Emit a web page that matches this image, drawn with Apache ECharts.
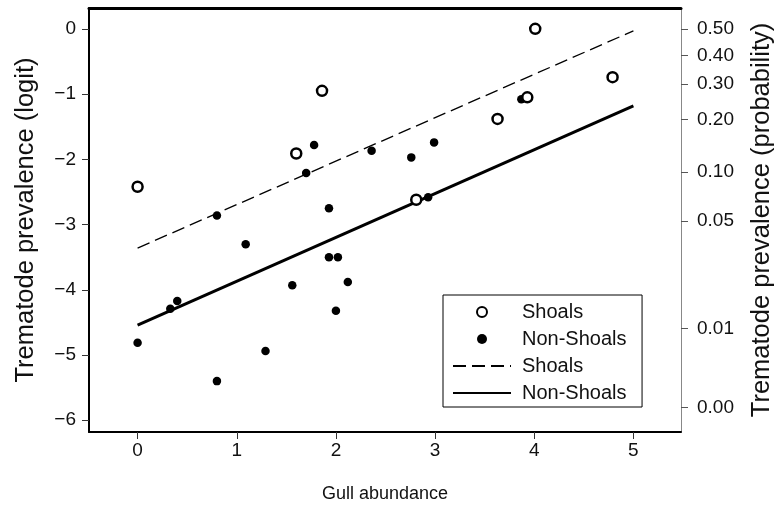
<!DOCTYPE html>
<html><head><meta charset="utf-8">
<script src="https://cdn.jsdelivr.net/npm/echarts@6/dist/echarts.min.js"></script>
<style>html,body{margin:0;padding:0;background:#fff}#c{width:779px;height:508px}</style>
</head><body><div id="c"></div>
<script>
const shoalsX = [0, 1.60, 1.86, 2.81, 3.63, 3.93, 4.01, 4.79];
const shoalsY = [-2.42, -1.91, -0.95, -2.62, -1.38, -1.05, 0.00, -0.74];
const nonShoalsX = [0, 0.33, 0.40, 0.80, 0.80, 1.09, 1.29, 1.56, 1.70, 1.78, 1.93, 1.93, 2.00, 2.02, 2.12, 2.36, 2.76, 2.93, 2.99, 3.87];
const nonShoalsY = [-4.81, -4.29, -4.17, -2.86, -5.40, -3.30, -4.94, -3.93, -2.21, -1.78, -2.75, -3.50, -4.32, -3.50, -3.88, -1.87, -1.97, -2.58, -1.74, -1.08];
const fitX = [0, 5];
const shoalsFit = [-3.36, -0.03];
const nonShoalsFit = [-4.54, -1.18];
const xTicks = [0, 1, 2, 3, 4, 5];
const logitTicks = [0, -1, -2, -3, -4, -5, -6];
const probTicks = [0.50, 0.40, 0.30, 0.20, 0.10, 0.05, 0.01, 0.003];
const probLabels = ['0.50', '0.40', '0.30', '0.20', '0.10', '0.05', '0.01', '0.00'];

const logit = p => Math.log(p / (1 - p));
const probPos = probTicks.map(logit);
const zip = (xs, ys) => xs.map((x, i) => [x, ys[i]]);
const FONT = 'Liberation Sans';
const TXT = '#111';

const chart = echarts.init(document.getElementById('c'), null, {renderer: 'canvas'});
chart.setOption({
  animation: false,
  backgroundColor: '#fff',
  textStyle: {fontFamily: FONT},
  grid: {left: 89, right: 98, top: 8, bottom: 76, containLabel: false, outerBoundsMode: 'none'},
  xAxis: [{
    type: 'value', min: -0.49, max: 5.48, position: 'bottom',
    name: 'Gull abundance', nameLocation: 'middle', nameGap: 53,
    nameTextStyle: {fontSize: 18, color: TXT, fontFamily: FONT},
    axisLine: {show: true, onZero: false, lineStyle: {color: '#000', width: 2}},
    axisTick: {show: true, length: 7, customValues: xTicks, lineStyle: {color: '#333', width: 1}},
    axisLabel: {show: true, customValues: xTicks, margin: 9, fontSize: 19, color: TXT, fontFamily: FONT},
    splitLine: {show: false}
  }, {
    type: 'value', min: -0.49, max: 5.48, position: 'top',
    axisLine: {show: true, onZero: false, lineStyle: {color: '#000', width: 3}},
    axisTick: {show: false}, axisLabel: {show: false}, splitLine: {show: false}
  }],
  yAxis: [{
    type: 'value', min: -6.18, max: 0.32, position: 'left',
    name: 'Trematode prevalence (logit)', nameLocation: 'middle', nameGap: 50, nameRotate: 90,
    nameTextStyle: {fontSize: 25.5, color: TXT, fontFamily: FONT},
    axisLine: {show: true, onZero: false, lineStyle: {color: '#000', width: 2}},
    axisTick: {show: true, length: 7, customValues: logitTicks, lineStyle: {color: '#333', width: 1}},
    axisLabel: {show: true, customValues: logitTicks, margin: 13, fontSize: 19, color: TXT, fontFamily: FONT,
      formatter: v => (v < 0 ? '\u2212' + Math.abs(v) : String(v))},
    splitLine: {show: false}
  }, {
    type: 'value', min: -6.18, max: 0.32, position: 'right',
    name: 'Trematode prevalence (probability)', nameLocation: 'middle', nameGap: 68, nameRotate: 90,
    nameTextStyle: {fontSize: 25.5, color: TXT, fontFamily: FONT},
    axisLine: {show: true, onZero: false, lineStyle: {color: '#888', width: 1}},
    axisTick: {show: true, length: 7, customValues: probPos, lineStyle: {color: '#555', width: 1}},
    axisLabel: {show: true, customValues: probPos, margin: 16, fontSize: 19, color: TXT, fontFamily: FONT,
      formatter: v => {
        let best = 0;
        probPos.forEach((p, i) => { if (Math.abs(p - v) < Math.abs(probPos[best] - v)) best = i; });
        return probLabels[best];
      }},
    splitLine: {show: false}
  }],
  legend: {
    show: true, orient: 'vertical', left: 443, top: 295,
    backgroundColor: '#fff', borderColor: '#000', borderWidth: 1,
    padding: [6, 10, 3, 9],
    itemWidth: 58, itemHeight: 10, itemGap: 5,
    textStyle: {fontSize: 20, color: TXT, fontFamily: FONT, lineHeight: 22, padding: [0, 0, 0, 6]},
    data: [{name: 'Shoals'}, {name: 'Non-Shoals'}, {name: 'Shoals '}, {name: 'Non-Shoals '}]
  },
  series: [{
    name: 'Shoals ', type: 'line', xAxisIndex: 0, yAxisIndex: 0,
    data: zip(fitX, shoalsFit), symbol: 'none', showSymbol: false, silent: true,
    itemStyle: {color: '#000', opacity: 0},
    lineStyle: {color: '#000', width: 1.3, type: [13, 6], opacity: 1}, z: 2
  }, {
    name: 'Non-Shoals ', type: 'line', xAxisIndex: 0, yAxisIndex: 0,
    data: zip(fitX, nonShoalsFit), symbol: 'none', showSymbol: false, silent: true,
    itemStyle: {color: '#000', opacity: 0},
    lineStyle: {color: '#000', width: 3, opacity: 1}, z: 2
  }, {
    name: 'Shoals', type: 'scatter', xAxisIndex: 0, yAxisIndex: 0,
    data: zip(shoalsX, shoalsY), symbol: 'circle', symbolSize: 10,
    itemStyle: {color: '#fff', borderColor: '#000', borderWidth: 2.5, opacity: 1}, z: 4
  }, {
    name: 'Non-Shoals', type: 'scatter', xAxisIndex: 0, yAxisIndex: 0,
    data: zip(nonShoalsX, nonShoalsY), symbol: 'circle', symbolSize: 8.5,
    itemStyle: {color: '#000', opacity: 1}, z: 3
  }]
});
</script></body></html>
